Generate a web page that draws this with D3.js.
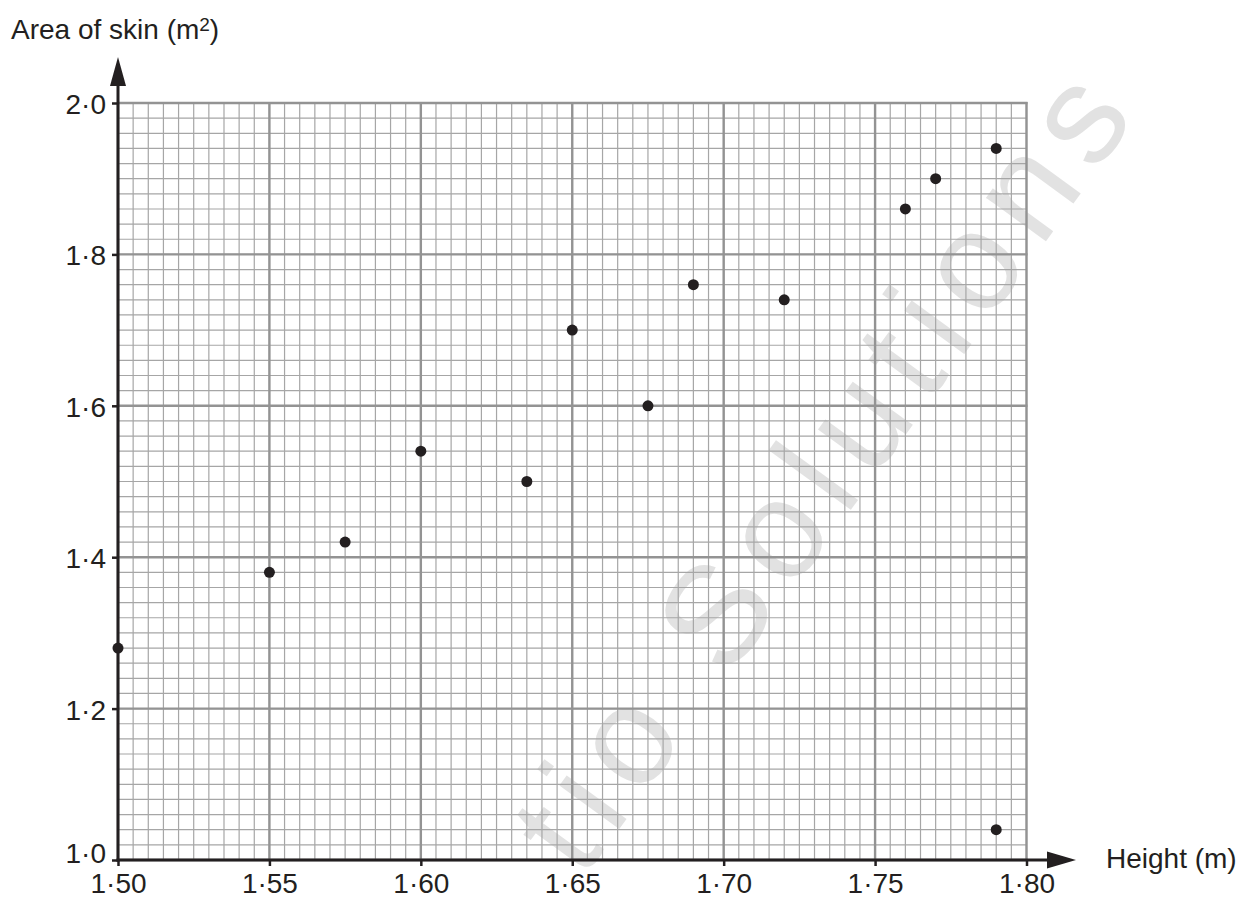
<!DOCTYPE html>
<html>
<head>
<meta charset="utf-8">
<script src="https://cdn.jsdelivr.net/npm/d3@7/dist/d3.min.js"></script>
<style>
  html, body { margin: 0; padding: 0; background: #ffffff; }
  svg { display: block; font-family: "Liberation Sans", Arial, sans-serif; }
</style>
</head>
<body>
<svg id="chart" width="1240" height="897"></svg>
<script>
// ---- data ----
const heights = [1.50, 1.55, 1.575, 1.60, 1.635, 1.65, 1.675, 1.69, 1.72, 1.76, 1.77, 1.79, 1.79];
const areas   = [1.28, 1.38, 1.42, 1.54, 1.50, 1.70, 1.60, 1.76, 1.74, 1.86, 1.90, 1.94, 1.04];
const xTickValues = [1.50, 1.55, 1.60, 1.65, 1.70, 1.75, 1.80];
const xTickLabels = ["1·50", "1·55", "1·60", "1·65", "1·70", "1·75", "1·80"];
const yTickValues = [1.0, 1.2, 1.4, 1.6, 1.8, 2.0];
const yTickLabels = ["1·0", "1·2", "1·4", "1·6", "1·8", "2·0"];
const xTitle = "Height (m)";
const yTitle = "Area of skin (m";
const watermark = "tio Solutions";

// ---- layout ----
const svg = d3.select("#chart");
const x = d3.scaleLinear().domain([1.50, 1.80]).range([118, 1026.5]);
const y = d3.scaleLinear().domain([1.0, 2.0]).range([860, 103]);
const ink = "#231f20";

// watermark (behind grid)
svg.append("text")
  .attr("transform", "translate(582,880) rotate(-54)")
  .style("font-size", "140px").style("letter-spacing", "15px")
  .attr("fill", "#e2e2e2").text(watermark);

// minor grid
const minorX = d3.range(0, 61).map(i => 1.50 + i * 0.005);
const minorY = d3.range(0, 51).map(i => 1.0 + i * 0.02);
const grid = svg.append("g");
grid.selectAll("line.mx").data(minorX).join("line")
  .attr("x1", d => x(d)).attr("x2", d => x(d))
  .attr("y1", y(1.0)).attr("y2", y(2.0))
  .attr("stroke", "#a6a6a6").attr("stroke-width", 1.2);
grid.selectAll("line.my").data(minorY).join("line")
  .attr("x1", x(1.50)).attr("x2", x(1.80))
  .attr("y1", d => y(d)).attr("y2", d => y(d))
  .attr("stroke", "#a6a6a6").attr("stroke-width", 1.2);
// major grid
grid.selectAll("line.Mx").data(xTickValues).join("line")
  .attr("x1", d => x(d)).attr("x2", d => x(d))
  .attr("y1", y(1.0)).attr("y2", y(2.0) - 1)
  .attr("stroke", "#939393").attr("stroke-width", 2.4);
grid.selectAll("line.My").data(yTickValues).join("line")
  .attr("x1", x(1.50)).attr("x2", x(1.80) + 1)
  .attr("y1", d => y(d)).attr("y2", d => y(d))
  .attr("stroke", "#939393").attr("stroke-width", 2.4);

// axes
const axisX = svg.append("g").attr("transform", `translate(0,${y(1.0)})`)
  .call(d3.axisBottom(x).tickValues(xTickValues).tickSize(6).tickPadding(5)
    .tickFormat((d, i) => xTickLabels[i]));
const axisY = svg.append("g").attr("transform", `translate(${x(1.50)},0)`)
  .call(d3.axisLeft(y).tickValues(yTickValues).tickSize(6).tickPadding(6)
    .tickFormat((d, i) => yTickLabels[i]));
[axisX, axisY].forEach(a => {
  a.select(".domain").remove();
  a.selectAll(".tick line").attr("stroke", ink).attr("stroke-width", 2.5);
  a.selectAll(".tick text").attr("fill", ink).style("font-size", "28px")
    .style("font-family", '"Liberation Sans", Arial, sans-serif');
});
axisX.selectAll(".tick text").attr("dy", 21.5);
axisY.selectAll(".tick text").attr("dy", (d, i) => i === 0 ? 2.5 : 10.5);

// axis lines with arrows
svg.append("line").attr("x1", x(1.50)).attr("x2", x(1.50))
  .attr("y1", y(1.0) + 1.5).attr("y2", 80).attr("stroke", ink).attr("stroke-width", 3);
svg.append("path").attr("d", `M${x(1.50)},57 L${x(1.50) - 8},86 L${x(1.50) + 8},86 Z`).attr("fill", ink);
svg.append("line").attr("x1", x(1.50) - 1.5).attr("x2", 1052)
  .attr("y1", y(1.0)).attr("y2", y(1.0)).attr("stroke", ink).attr("stroke-width", 3);
svg.append("path").attr("d", `M1076,${y(1.0)} L1047,${y(1.0) - 8.5} L1047,${y(1.0) + 8.5} Z`).attr("fill", ink);

// titles
const yt = svg.append("text").attr("x", 11).attr("y", 39).attr("fill", ink).style("font-size", "28px").text(yTitle);
yt.append("tspan").attr("dy", -8).style("font-size", "19px").text("2");
yt.append("tspan").attr("dy", 8).text(")");
svg.append("text").attr("x", 1106).attr("y", 868).attr("fill", ink).style("font-size", "28px").text(xTitle);

// points
svg.append("g").selectAll("circle").data(heights.map((h, i) => ({h, a: areas[i]}))).join("circle")
  .attr("cx", d => x(d.h)).attr("cy", d => y(d.a)).attr("r", 5.5).attr("fill", ink);
</script>
</body>
</html>
